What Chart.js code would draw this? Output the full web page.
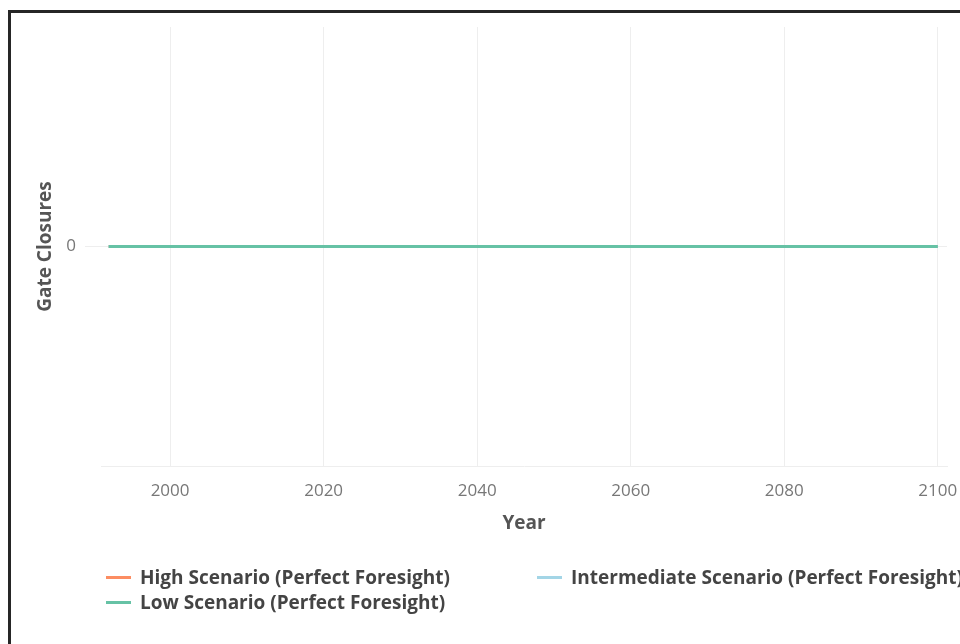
<!DOCTYPE html>
<html>
<head>
<meta charset="utf-8">
<script src="https://cdn.jsdelivr.net/npm/chart.js@4/dist/chart.umd.min.js"></script>
<style>
  html, body { margin: 0; padding: 0; background: #fff; overflow: hidden; }
  #wrap { position: relative; width: 960px; height: 644px; }
  #frame { position: absolute; left: 8px; top: 10px; width: 980px; height: 700px;
           border: 3px solid #262626; box-sizing: border-box; pointer-events: none; }
  #legend { position: absolute; left: 106px; top: 567px; display: grid;
            grid-template-columns: 431px auto; row-gap: 5px;
            font-family: "Open Sans", sans-serif; font-weight: bold; font-size: 19px;
            color: #444; white-space: nowrap; }
  .item { display: flex; align-items: center; height: 20px; }
  .swatch { width: 25px; height: 3px; margin-right: 9px; flex: none; }
</style>
</head>
<body>
<div id="wrap">
  <canvas id="myChart" width="960" height="644"></canvas>
  <div id="frame"></div>
  <div id="legend"></div>
</div>
<script>
const years = [
  1992, 1993, 1994, 1995, 1996, 1997, 1998, 1999, 2000, 2001,
  2002, 2003, 2004, 2005, 2006, 2007, 2008, 2009, 2010, 2011,
  2012, 2013, 2014, 2015, 2016, 2017, 2018, 2019, 2020, 2021,
  2022, 2023, 2024, 2025, 2026, 2027, 2028, 2029, 2030, 2031,
  2032, 2033, 2034, 2035, 2036, 2037, 2038, 2039, 2040, 2041,
  2042, 2043, 2044, 2045, 2046, 2047, 2048, 2049, 2050, 2051,
  2052, 2053, 2054, 2055, 2056, 2057, 2058, 2059, 2060, 2061,
  2062, 2063, 2064, 2065, 2066, 2067, 2068, 2069, 2070, 2071,
  2072, 2073, 2074, 2075, 2076, 2077, 2078, 2079, 2080, 2081,
  2082, 2083, 2084, 2085, 2086, 2087, 2088, 2089, 2090, 2091,
  2092, 2093, 2094, 2095, 2096, 2097, 2098, 2099, 2100
];

const highScenario = [
  0, 0, 0, 0, 0, 0, 0, 0, 0, 0, 0, 0, 0, 0, 0, 0, 0, 0, 0, 0,
  0, 0, 0, 0, 0, 0, 0, 0, 0, 0, 0, 0, 0, 0, 0, 0, 0, 0, 0, 0,
  0, 0, 0, 0, 0, 0, 0, 0, 0, 0, 0, 0, 0, 0, 0, 0, 0, 0, 0, 0,
  0, 0, 0, 0, 0, 0, 0, 0, 0, 0, 0, 0, 0, 0, 0, 0, 0, 0, 0, 0,
  0, 0, 0, 0, 0, 0, 0, 0, 0, 0, 0, 0, 0, 0, 0, 0, 0, 0, 0, 0,
  0, 0, 0, 0, 0, 0, 0, 0, 0
];
const intermediateScenario = [
  0, 0, 0, 0, 0, 0, 0, 0, 0, 0, 0, 0, 0, 0, 0, 0, 0, 0, 0, 0,
  0, 0, 0, 0, 0, 0, 0, 0, 0, 0, 0, 0, 0, 0, 0, 0, 0, 0, 0, 0,
  0, 0, 0, 0, 0, 0, 0, 0, 0, 0, 0, 0, 0, 0, 0, 0, 0, 0, 0, 0,
  0, 0, 0, 0, 0, 0, 0, 0, 0, 0, 0, 0, 0, 0, 0, 0, 0, 0, 0, 0,
  0, 0, 0, 0, 0, 0, 0, 0, 0, 0, 0, 0, 0, 0, 0, 0, 0, 0, 0, 0,
  0, 0, 0, 0, 0, 0, 0, 0, 0
];
const lowScenario = [
  0, 0, 0, 0, 0, 0, 0, 0, 0, 0, 0, 0, 0, 0, 0, 0, 0, 0, 0, 0,
  0, 0, 0, 0, 0, 0, 0, 0, 0, 0, 0, 0, 0, 0, 0, 0, 0, 0, 0, 0,
  0, 0, 0, 0, 0, 0, 0, 0, 0, 0, 0, 0, 0, 0, 0, 0, 0, 0, 0, 0,
  0, 0, 0, 0, 0, 0, 0, 0, 0, 0, 0, 0, 0, 0, 0, 0, 0, 0, 0, 0,
  0, 0, 0, 0, 0, 0, 0, 0, 0, 0, 0, 0, 0, 0, 0, 0, 0, 0, 0, 0,
  0, 0, 0, 0, 0, 0, 0, 0, 0
];

const xTicks = [2000, 2020, 2040, 2060, 2080, 2100];
const yTicks = [0];

const series = [
  { label: 'High Scenario (Perfect Foresight)', values: highScenario, color: '#fc8d62', order: 2 },
  { label: 'Intermediate Scenario (Perfect Foresight)', values: intermediateScenario, color: '#a3d5e6', order: 1 },
  { label: 'Low Scenario (Perfect Foresight)', values: lowScenario, color: '#66c2a5', order: 0 },
];

const font = "'Open Sans', sans-serif";

const config = {
  type: 'line',
  data: {
    datasets: series.map(s => ({
      label: s.label,
      data: years.map((y, i) => ({ x: y, y: s.values[i] })),
      borderColor: s.color,
      backgroundColor: s.color,
      borderWidth: 3,
      pointRadius: 0,
      fill: false,
      order: s.order,
    }))
  },
  options: {
    responsive: false,
    animation: false,
    layout: { padding: { left: 0, top: 27, right: 13, bottom: 108 } },
    plugins: { legend: { display: false }, tooltip: { enabled: false } },
    scales: {
      x: {
        type: 'linear',
        min: 1991,
        max: 2101.2,
        afterBuildTicks: axis => { axis.ticks = xTicks.map(v => ({ value: v })); },
        afterFit: axis => {
          axis.height = 70;
          // labels at the edges may overhang, like the original
          axis.paddingLeft = 0;
          axis.paddingRight = 0;
        },
        grid: { color: '#eeeeee', drawTicks: false },
        border: { display: true, color: '#eeeeee' },
        ticks: {
          color: '#777', padding: 15, maxRotation: 0,
          font: { family: font, size: 17 },
          callback: v => String(v)
        },
        title: {
          display: true, text: 'Year', color: '#555',
          font: { family: font, size: 19, weight: 'bold' },
          padding: { top: 0, bottom: 1 }
        }
      },
      y: {
        min: -1,
        max: 1,
        afterBuildTicks: axis => { axis.ticks = yTicks.map(v => ({ value: v })); },
        afterFit: axis => { axis.width = 101; },
        grid: { color: '#eeeeee', tickLength: 16 },
        border: { display: false },
        ticks: {
          color: '#777', padding: 9,
          font: { family: font, size: 17 },
          callback: v => String(v)
        },
        title: {
          display: true, text: 'Gate Closures', color: '#555',
          font: { family: font, size: 19, weight: 'bold' },
          padding: { top: 34, bottom: 0 }
        }
      }
    }
  }
};

const chart = new Chart(document.getElementById('myChart').getContext('2d'), config);

// legend in two columns: High | Intermediate, then Low
const legendBox = document.getElementById('legend');
series.forEach(s => {
  const item = document.createElement('div');
  item.className = 'item';
  const sw = document.createElement('span');
  sw.className = 'swatch';
  sw.style.background = s.color;
  const txt = document.createElement('span');
  txt.textContent = s.label;
  item.appendChild(sw);
  item.appendChild(txt);
  legendBox.appendChild(item);
});
</script>
</body>
</html>
